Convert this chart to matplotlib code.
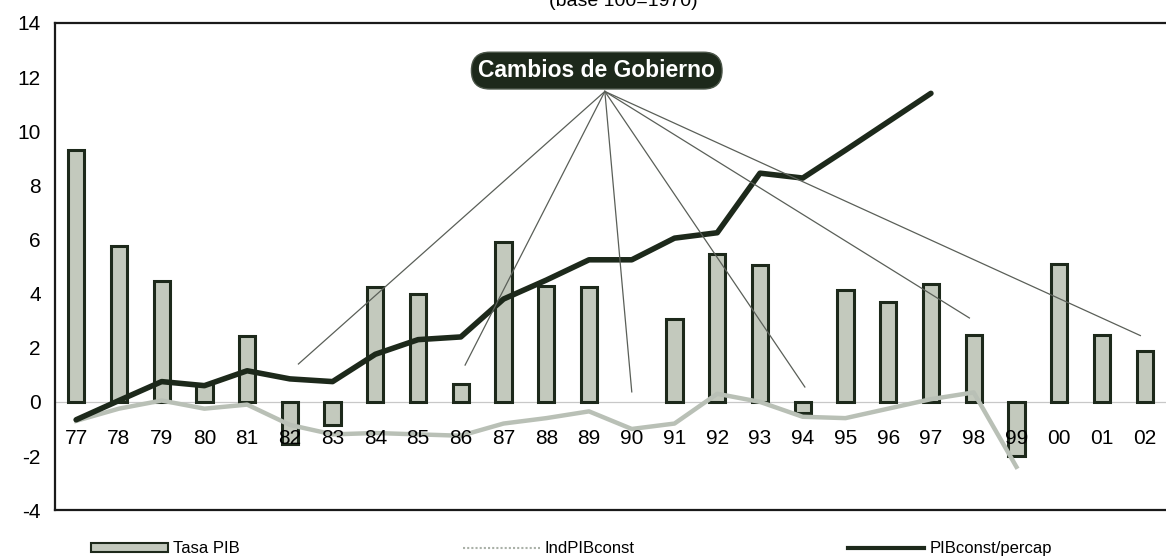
import matplotlib
matplotlib.use("Agg")
import matplotlib.pyplot as plt
from matplotlib.patches import Rectangle
from matplotlib.lines import Line2D

plt.rcParams['font.family'] = ['Liberation Sans Narrow', 'Liberation Sans', 'DejaVu Sans']

categories = ["77", "78", "79", "80", "81", "82", "83", "84", "85", "86", "87", "88", "89",
              "90", "91", "92", "93", "94", "95", "96", "97", "98", "99", "00", "01", "02"]
tasa_pib = [9.3, 5.77, 4.45, 0.66, 2.43, -1.55, -0.85, 4.26, 4.0, 0.65, 5.9, 4.3, 4.26,
            float('nan'), 3.05, 5.45, 5.07, -0.4, 4.12, 3.68, 4.37, 2.46, -2.0, 5.1, 2.46, 1.88]
ind_pib_const = [-0.7, -0.25, 0.05, -0.25, -0.1, -0.85, -1.2, -1.15, -1.2, -1.25, -0.8, -0.6,
                 -0.35, -1.0, -0.8, 0.3, 0.0, -0.55, -0.6, -0.25, 0.1, 0.35, -2.4]
pib_percap = [-0.66, 0.05, 0.75, 0.6, 1.15, 0.85, 0.75, 1.76, 2.3, 2.4, 3.8, 4.5, 5.25,
              5.25, 6.05, 6.25, 8.45, 8.27, 9.3, 10.35, 11.4]
yticks = [-4, -2, 0, 2, 4, 6, 8, 10, 12, 14]

callout_text = "Cambios de Gobierno"
callout_targets = [5.2, 9.1, 13.0, 17.05, 20.9, 24.9]
callout_target_y = [1.4, 1.36, 0.37, 0.55, 3.1, 2.45]

fig = plt.figure(figsize=(11.66, 5.6), dpi=100)
ax = fig.add_axes([0.047, 0.089, 0.953, 0.87])

x = list(range(len(categories)))
dark = '#1d291b'
bar_face = '#c3c9bd'

ax.bar(x, tasa_pib, width=0.38, color=bar_face, edgecolor=dark, linewidth=2.2, zorder=2)
ax.axhline(0, color='#c8c8c8', lw=0.9, zorder=1)
ax.plot(x[:len(ind_pib_const)], ind_pib_const, color='#b9c0b6', lw=3.2, zorder=3,
        solid_joinstyle='round')
ax.plot(x[:len(pib_percap)], pib_percap, color=dark, lw=4.0, zorder=4,
        solid_joinstyle='round', solid_capstyle='round')

ax.set_xlim(-0.5, len(categories) - 0.5)
ax.set_ylim(-4, 14)
ax.set_yticks(yticks)
ax.set_yticklabels([str(t) for t in yticks], fontsize=15)
ax.tick_params(axis='y', length=0, pad=10)
ax.set_xticks([])
for sp in ['left', 'top', 'bottom']:
    ax.spines[sp].set_color('#1a1a1a')
    ax.spines[sp].set_linewidth(1.6)
ax.spines['right'].set_visible(False)

for xi, lab in zip(x, categories):
    ax.text(xi, -1.35, lab, ha='center', va='center', fontsize=15, zorder=6)

# callout
ox, oy = 12.37, 11.47
for tx, ty in zip(callout_targets, callout_target_y):
    ax.plot([ox, tx], [oy, ty], color='#5a5f58', lw=0.9, zorder=5)
ax.text(12.18, 12.24, callout_text, ha='center', va='center', fontsize=16.5,
        fontweight='bold', color='white', family=['Liberation Sans', 'DejaVu Sans'], zorder=7,
        bbox=dict(boxstyle='round,pad=0.3,rounding_size=0.8', fc=dark, ec='#4a5548', lw=1))

fig.text(0.535, 0.998, "(base 100=1970)", ha='center', va='center', fontsize=14)

# legends
h1 = Rectangle((0, 0), 1, 1, facecolor=bar_face, edgecolor=dark, linewidth=1.5)
h2 = Line2D([], [], color='#aab1a8', lw=1.5, linestyle=(0, (1, 1)))
h3 = Line2D([], [], color=dark, lw=3)
for h, lab, xp in [(h1, 'Tasa PIB', 0.078), (h2, 'IndPIBconst', 0.397), (h3, 'PIBconst/percap', 0.727)]:
    leg = fig.legend([h], [lab], loc='center left', bbox_to_anchor=(xp, 0.02), frameon=False,
                     fontsize=12, handlelength=4.6, handleheight=0.45, handletextpad=0.3,
                     borderpad=0, borderaxespad=0)

fig.savefig("out.png", dpi=100)
